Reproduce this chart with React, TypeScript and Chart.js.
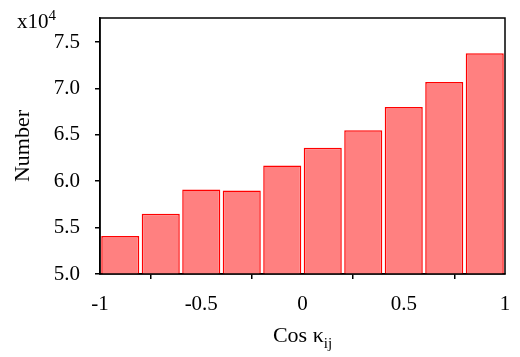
import React, { useEffect, useRef } from 'react';
import { Chart, registerables } from 'chart.js';

Chart.register(...registerables);

// Data (counts in units of 10^4)
const binCenters = [-0.9, -0.7, -0.5, -0.3, -0.1, 0.1, 0.3, 0.5, 0.7, 0.9];
const counts = [5.41, 5.65, 5.91, 5.9, 6.17, 6.36, 6.55, 6.8, 7.07, 7.38];
const xTickValues = [-1, -0.5, 0, 0.5, 1];
const yTickValues = [5.0, 5.5, 6.0, 6.5, 7.0, 7.5];
const xMin = -1;
const xMax = 1;
const yMin = 5.0;
const yMax = 7.76;
const xTitleMain = 'Cos κ';
const xTitleSub = 'ij';
const yTitleText = 'Number';
const scaleBase = 'x10';
const scaleExp = '4';

const FONT = "'Liberation Serif', 'Times New Roman', serif";

export default function App() {
  const ref = useRef<HTMLCanvasElement | null>(null);

  useEffect(() => {
    document.body.style.margin = '0';
    const canvas = ref.current;
    if (!canvas) return;

    const decor = {
      id: 'decor',
      afterDraw(chart: any) {
        const { ctx, chartArea } = chart;
        const { left, right, top, bottom } = chartArea;
        ctx.save();
        ctx.strokeStyle = '#000';
        ctx.lineWidth = 1.5;
        ctx.strokeRect(left, top, right - left, bottom - top);
        ctx.fillStyle = '#000';
        ctx.textBaseline = 'alphabetic';
        ctx.textAlign = 'left';
        ctx.font = `22px ${FONT}`;
        const wMain = ctx.measureText(xTitleMain).width;
        ctx.font = `15px ${FONT}`;
        const wSub = ctx.measureText(xTitleSub).width;
        const cx = (left + right) / 2;
        const startX = cx - (wMain + wSub) / 2;
        ctx.font = `22px ${FONT}`;
        ctx.fillText(xTitleMain, startX, 342);
        ctx.font = `15px ${FONT}`;
        ctx.fillText(xTitleSub, startX + wMain, 348);
        ctx.font = `21px ${FONT}`;
        ctx.fillText(scaleBase, 17, 28);
        const wb = ctx.measureText(scaleBase).width;
        ctx.font = `15px ${FONT}`;
        ctx.fillText(scaleExp, 17 + wb, 20);
        ctx.restore();
      },
    };

    const chart = new Chart(canvas, {
      type: 'bar',
      data: {
        datasets: [
          {
            data: binCenters.map((x, i) => ({ x, y: counts[i] })),
            backgroundColor: 'rgb(255,128,128)',
            borderColor: 'rgb(255,0,0)',
            borderWidth: 1.5,
            barPercentage: 0.94,
            categoryPercentage: 1,
          },
        ],
      },
      options: {
        animation: false,
        responsive: false,
        layout: { padding: { top: 18, right: 15, left: 0, bottom: 0 } },
        plugins: {
          legend: { display: false },
          tooltip: { enabled: false },
        },
        scales: {
          x: {
            type: 'linear',
            min: xMin,
            max: xMax,
            offset: false,
            afterBuildTicks: (scale: any) => {
              scale.ticks = xTickValues.map((v) => ({ value: v }));
            },
            afterFit: (scale: any) => {
              scale.height = 83;
              scale.paddingLeft = 0;
              scale.paddingRight = 0;
            },
            ticks: {
              color: '#000',
              font: { family: FONT, size: 21 },
              padding: 13,
              maxRotation: 0,
              autoSkip: false,
              callback: (v: any) => String(v),
            },
            grid: {
              drawOnChartArea: false,
              drawTicks: true,
              tickLength: 5,
              color: '#000',
              lineWidth: 1.5,
            },
            border: { display: true, color: '#000', width: 1.5 },
          },
          y: {
            type: 'linear',
            min: yMin,
            max: yMax,
            ticks: {
              color: '#000',
              font: { family: FONT, size: 21 },
              padding: 15,
              includeBounds: false,
              stepSize: 0.5,
              callback: (v: any) => Number(v).toFixed(1),
            },
            afterBuildTicks: (scale: any) => {
              scale.ticks = yTickValues.map((v) => ({ value: v }));
            },
            afterFit: (scale: any) => {
              scale.width = 100;
              scale.paddingTop = 0;
              scale.paddingBottom = 0;
            },
            grid: {
              drawOnChartArea: false,
              drawTicks: true,
              tickLength: 5,
              color: '#000',
              lineWidth: 1.5,
            },
            border: { display: true, color: '#000', width: 1.5 },
            title: {
              display: true,
              text: yTitleText,
              color: '#000',
              font: { family: FONT, size: 22 },
              padding: { top: 10, bottom: 0 },
            },
          },
        },
      },
      plugins: [decor],
    } as any);

    return () => chart.destroy();
  }, []);

  return (
    <div style={{ width: 520, height: 357 }}>
      <canvas ref={ref} width={520} height={357} />
    </div>
  );
}
